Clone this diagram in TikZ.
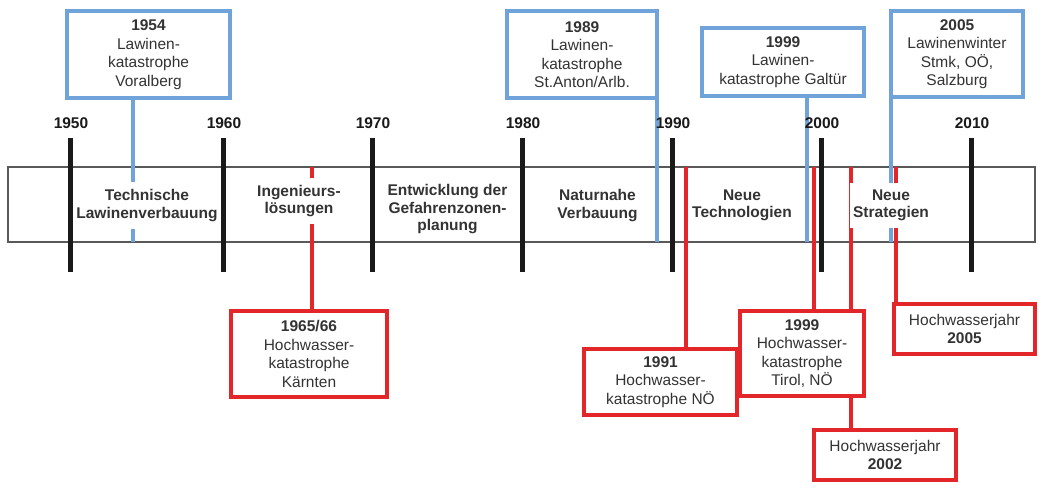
\documentclass[tikz,border=0pt]{standalone}
\usepackage{fontspec}
\setmainfont{Liberation Sans}
\definecolor{lblue}{HTML}{6FA3D9}
\definecolor{lred}{HTML}{E3262A}
\definecolor{txt}{HTML}{333333}
\definecolor{tick}{HTML}{1A1A1A}
\begin{document}
\begin{tikzpicture}[x=1pt,y=-1pt,
  boxbase/.style={line width=4.5pt, fill=white, inner sep=0pt, align=center, text=txt,
    font=\fontsize{15.5}{18.5}\selectfont},
  bluebox/.style={boxbase, draw=lblue},
  redbox/.style={boxbase, draw=lred},
  blueconn/.style={draw=lblue, line width=4.5pt},
  redconn/.style={draw=lred, line width=4.5pt},
  phase/.style={fill=white, inner xsep=3pt, inner ysep=7pt, align=center, text=txt,
    font=\fontsize{15.5}{17.5}\selectfont\bfseries},
  yearlbl/.style={text=tick, font=\fontsize{15.5}{17}\selectfont\bfseries},
  tickln/.style={draw=tick, line width=5pt}
]
\useasboundingbox (0,0) rectangle (1039,484);
\fill[white] (0,0) rectangle (1039,484);

% band
\node[draw=black!65, line width=1.5pt, minimum width=1027pt, minimum height=75pt, inner sep=0pt] (band) at (521.5,204.5) {};

% connector anchor points on the band
\coordinate (c1954) at (133,242);
\coordinate (c1989) at (657,242);
\coordinate (c1999b) at (807,242);
\coordinate (c2005b) at (891,242);
\coordinate (c1965) at (312,167);
\coordinate (c1991) at (686,167);
\coordinate (c1999r) at (814,167);
\coordinate (c2002) at (851,167);
\coordinate (c2005r) at (896,167);

% blue boxes
\path
  node[bluebox, minimum width=163pt, minimum height=87pt] (b1954) at (148.5,54.5)
    {\textbf{1954}\\Lawinen-\\katastrophe\\Voralberg}
  node[bluebox, minimum width=150pt, minimum height=87pt] (b1989) at (582,54.5)
    {\textbf{1989}\\Lawinen-\\katastrophe\\St.Anton/Arlb.}
  node[bluebox, minimum width=162pt, minimum height=68pt] (b1999) at (783,62)
    {\textbf{1999}\\Lawinen-\\katastrophe Galtür}
  node[bluebox, minimum width=132pt, minimum height=86pt] (b2005) at (957,54)
    {\textbf{2005}\\Lawinenwinter\\Stmk, OÖ,\\Salzburg};

% blue connectors
\draw[blueconn] (b1954.south -| c1954) -- (c1954);
\draw[blueconn] (b1989.south -| c1989) -- (c1989);
\draw[blueconn] (b1999.south -| c1999b) -- (c1999b);
\draw[blueconn] (b2005.south -| c2005b) -- (c2005b);

% red boxes
\path
  node[redbox, minimum width=156pt, minimum height=86pt] (r1965) at (309,354)
    {\textbf{1965/66}\\Hochwasser-\\katastrophe\\Kärnten}
  node[redbox, minimum width=153pt, minimum height=66pt] (r1991) at (660.5,382)
    {\textbf{1991}\\Hochwasser-\\katastrophe NÖ}
  node[redbox, minimum width=142pt, minimum height=50pt] (r2002) at (885,455)
    {Hochwasserjahr\\\textbf{2002}}
  node[redbox, minimum width=141pt, minimum height=50pt] (r2005) at (964.5,329)
    {Hochwasserjahr\\\textbf{2005}};

% red connectors
\draw[redconn] (c1965) -- (c1965 |- r1965.north);
\draw[redconn] (c1991) -- (c1991 |- r1991.north);
\draw[redconn] (c1999r) -- (c1999r |- 0,311);
\draw[redconn] (c2002) -- (c2002 |- r2002.north);
\draw[redconn] (c2005r) -- (c2005r |- r2005.north);

% phase texts in the band
\node[phase] (p1) at (147,205.5) {Technische\\Lawinenverbauung};
\node[phase] (p2) at (299,201) {Ingenieurs-\\lösungen};
\node[phase] (p3) at (447.5,209.5) {Entwicklung der\\Gefahrenzonen-\\planung};
\node[phase] (p4) at (597.5,205.5) {Naturnahe\\Verbauung};
\node[phase] (p5) at (742,205.5) {Neue\\Technologien};
\node[phase] (p6) at (891,205.5) {Neue\\Strategien};

% decade ticks and labels
\foreach \yr/\xx in {1950/70,1960/223,1970/372,1980/522,1990/672,2000/821,2010/971}{
  \coordinate (t\yr a) at (\xx,138);
  \coordinate (t\yr b) at (\xx,272);
  \draw[tickln] (t\yr a) -- (t\yr b);
  \node[yearlbl] (y\yr) at (\xx+1,123) {\yr};
}

% 1999 flood box drawn over the 2002 connector and 1991 box
\node[redbox, minimum width=124pt, minimum height=85pt] (r1999) at (802,353.5)
    {\textbf{1999}\\Hochwasser-\\katastrophe\\Tirol, NÖ};
\end{tikzpicture}
\end{document}
